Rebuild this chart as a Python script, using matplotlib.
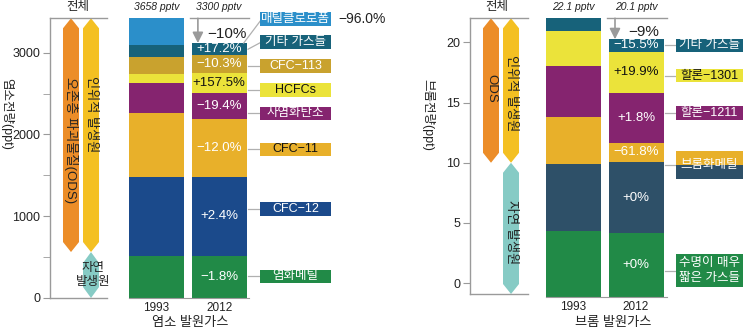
import matplotlib
matplotlib.use("Agg")
import matplotlib.pyplot as plt
from matplotlib import font_manager
from matplotlib.patches import Polygon, Rectangle
import numpy as np

# ---- data (ppt) ----
years = ['1993', '2012']

cl_names = ['염화메틸', 'CFC−12', 'CFC−11', '사염화탄소', 'HCFCs', 'CFC−113', '기타 가스들', '매틸클로로폼']
cl_1993 = [513, 970, 775, 367, 113, 212, 143, 326]
cl_2012 = [513, 970, 702, 317, 248, 217, 150, 0]
cl_change = ['−1.8%', '+2.4%', '−12.0%', '−19.4%', '+157.5%', '−10.3%', '+17.2%', '−96.0%']
cl_totals = ['3658 pptv', '3300 pptv']
cl_total_change = '−10%'
cl_natural = 562      # 자연 발생원 upper end
cl_ymax = 3420

br_names = ['수명이 매우\n짧은 가스들', '브롬화메틸', '할론−1211', '할론−1301', '기타 가스들']
br_segs = [[0], [1, 2], [3], [4], [5]]   # which bar segments each label box covers
br_1993 = [5.50, 5.56, 3.93, 4.21, 2.92, 1.03]
br_2012 = [5.31, 5.89, 1.63, 4.10, 3.45, 1.03]
br_change = ['+0%', '+0%', '−61.8%', '+1.8%', '+19.9%', '−15.5%']
br_totals = ['22.1 pptv', '20.1 pptv']
br_total_change = '−9%'
br_natural = 10.0
br_ymin, br_ymax = -0.9, 22.0
br_barmax = 23.15

# ---- colours ----
cl_colors = ['#218a47', '#1b4a8b', '#e8b02a', '#85246f', '#ebe33a', '#c9a22e', '#17627a', '#2b8fca']
cl_txt = ['white', 'white', 'white', 'white', '#111', 'white', 'white', 'white']
cl_boxtxt = ['white', 'white', '#111', 'white', '#111', 'white', 'white', 'white']
br_colors = ['#218a47', '#2e5068', '#e8b02a', '#85246f', '#ebe33a', '#17627a']
br_txt = ['white', 'white', 'white', 'white', '#111', 'white']
ODS_C = '#ec8d28'
ANTH_C = '#f4c022'
NAT_C = '#86cbc5'
GREY = '#9a9a9a'
DARK = '#222222'

names = {f.name for f in font_manager.fontManager.ttflist}
narrow = 'Liberation Sans Narrow' if 'Liberation Sans Narrow' in names else 'Liberation Sans'
plt.rcParams['font.family'] = [narrow, 'Noto Sans CJK KR', 'DejaVu Sans']

W, H = 745, 333
fig = plt.figure(figsize=(W / 100, H / 100), dpi=100)


def px_rect(x0, y0, x1, y1):
    return [x0 / W, 1 - y1 / H, (x1 - x0) / W, (y1 - y0) / H]


def px_text(x, y, s, **kw):
    fig.text(x / W, 1 - y / H, s, ha='center', va='center', color=DARK, **kw)


def hex_arrow(ax, x0, x1, y0, y1, tip, color):
    xm = (x0 + x1) / 2
    pts = [(x0, y0 + tip), (xm, y0), (x1, y0 + tip), (x1, y1 - tip), (xm, y1), (x0, y1 - tip)]
    ax.add_patch(Polygon(pts, closed=True, fc=color, ec='none', clip_on=False))


def total_axes(rect, ylim):
    ax = fig.add_axes(rect)
    ax.set_xlim(0, 1)
    ax.set_ylim(*ylim)
    ax.set_xticks([])
    ax.spines['right'].set_visible(False)
    for s in ['left', 'top', 'bottom']:
        ax.spines[s].set_color(GREY)
        ax.spines[s].set_linewidth(1)
    ax.tick_params(axis='y', which='both', length=5, color=GREY, labelsize=9,
                   pad=2, labelcolor=DARK)
    ax.patch.set_alpha(0)
    return ax


def bar_axes(rect, xlim, ylim, v93, v12, colors, txtc, changes, totals, tot_change, arrow_x):
    ax = fig.add_axes(rect)
    ax.set_xlim(*xlim)
    ax.set_ylim(*ylim)
    for s in ['left', 'right', 'top']:
        ax.spines[s].set_visible(False)
    ax.spines['bottom'].set_color(GREY)
    ax.set_yticks([])
    ax.set_xticks([0, 1], years)
    ax.tick_params(axis='x', length=0, pad=3, labelsize=8.5, labelcolor=DARK)
    ax.patch.set_alpha(0)
    w = 0.88
    b93 = np.concatenate([[0], np.cumsum(v93)[:-1]])
    b12 = np.concatenate([[0], np.cumsum(v12)[:-1]])
    ax.bar(0, v93, bottom=b93, width=w, color=colors)
    ax.bar(1, v12, bottom=b12, width=w, color=colors)
    for i, v in enumerate(v12):
        if v > 0:
            ax.text(1, b12[i] + v / 2, changes[i], ha='center', va='center',
                    color=txtc[i], fontsize=9.5)
    for x, t in zip([0, 1], totals):
        ax.text(x, 1.04, t, transform=ax.get_xaxis_transform(), ha='center',
                va='center', fontsize=7.5, style='italic', color=DARK,
                family=['Liberation Sans', 'DejaVu Sans'])
    ytop = ylim[1]
    top12 = sum(v12)
    ax.plot([1 - w / 2 - 0.02, xlim[1]], [ytop, ytop], color=GREY, lw=1, clip_on=False)
    ax.annotate('', xy=(arrow_x, top12), xytext=(arrow_x, ytop),
                arrowprops=dict(arrowstyle='-|>', color=GREY, lw=1.2, mutation_scale=16,
                                shrinkA=0, shrinkB=0), annotation_clip=False)
    ax.text(1.13, (ytop + top12) / 2 - (ytop - top12) * 0.15, tot_change, ha='center',
            va='center', fontsize=11, color=DARK)
    return ax, b12


def label_box(ax, x0, x1, y, h, text, fc, tc, line_x, seg_lo, seg_hi, line_from=None):
    if line_from is not None:
        sx, sy = line_from
    else:
        sx = line_x
        sy = y if seg_lo <= y <= seg_hi else (seg_lo + seg_hi) / 2
    ax.plot([sx, x0 + 0.03], [sy, y], color='#b0b0b0', lw=0.9, clip_on=False, zorder=1)
    ax.add_patch(Rectangle((x0, y - h / 2), x1 - x0, h, fc=fc, ec='none',
                           clip_on=False, zorder=2))
    ax.text((x0 + x1) / 2, y, text, ha='center', va='center', color=tc,
            fontsize=9, zorder=3, linespacing=1.35)


# ================= 염소 (chlorine) =================
ax1 = total_axes(px_rect(50, 18.3, 107, 298), (0, cl_ymax))
ax1.set_yticks([0, 1000, 2000, 3000])
ax1.set_yticks([500, 1500, 2500], minor=True)
tip1 = 10 / (279.7 / cl_ymax)
hex_arrow(ax1, 0.228, 0.509, cl_natural, cl_ymax, tip1, ODS_C)
hex_arrow(ax1, 0.579, 0.86, cl_natural, cl_ymax, tip1, ANTH_C)
hex_arrow(ax1, 0.579, 0.86, 0, cl_natural, tip1 * 1.1, NAT_C)
ax1.text(0.368, 1931, '오존층 파괴물질(ODS)', rotation=270, ha='center', va='center',
         fontsize=9.5, color=DARK)
ax1.text(0.72, 2249, '인위적 발생원', rotation=270, ha='center', va='center',
         fontsize=9.5, color=DARK)
ax1.text(0.75, 281, '자연\n발생원', ha='center', va='center', fontsize=9,
         color=DARK, linespacing=1.3)
px_text(78, 7, '전체', fontsize=9)
px_text(7, 114, '염소전량(ppt)', rotation=270, fontsize=9)

ax3, b12 = bar_axes(px_rect(129, 18.3, 249, 298), (-0.4386, 1.475), (0, cl_ymax),
                    cl_1993, cl_2012, cl_colors, cl_txt, cl_change, cl_totals,
                    cl_total_change, 0.66)
cl_label_y = [265, 1090, 1818, 2258, 2543, 2836, 3133, 3414]
h1 = 13.5 / (279.7 / cl_ymax)
for i, name in enumerate(cl_names):
    lf = None
    if cl_2012[i] == 0:
        lf = (1.39, sum(cl_2012))
    label_box(ax3, 1.651, 2.783, cl_label_y[i], h1, name, cl_colors[i], cl_boxtxt[i],
              1.46, b12[i], b12[i] + cl_2012[i], line_from=lf)
ax3.text(2.9, cl_label_y[-1], cl_change[-1], ha='left', va='center', fontsize=10, color=DARK)
px_text(190, 323, '염소 발원가스', fontsize=9.5)

# ================= 브롬 (bromine) =================
ax2 = total_axes(px_rect(470, 18.3, 528, 294), (br_ymin, br_ymax))
ax2.set_yticks([0, 5, 10, 15, 20])
tip2 = 10 / (275.7 / (br_ymax - br_ymin))
hex_arrow(ax2, 0.224, 0.5, br_natural, br_ymax, tip2, ODS_C)
hex_arrow(ax2, 0.569, 0.845, br_natural, br_ymax, tip2, ANTH_C)
hex_arrow(ax2, 0.569, 0.845, br_ymin, br_natural, tip2, NAT_C)
ax2.text(0.362, 16.2, 'ODS', rotation=270, ha='center', va='center', fontsize=9.5, color=DARK)
ax2.text(0.707, 15.8, '인위적 발생원', rotation=270, ha='center', va='center',
         fontsize=9.5, color=DARK)
ax2.text(0.707, 4.26, '자연 발생원', rotation=270, ha='center', va='center',
         fontsize=9.5, color=DARK)
px_text(497, 7, '전체', fontsize=9)
px_text(428, 115, '브롬전량(ppt)', rotation=270, fontsize=9)

ax4, b12r = bar_axes(px_rect(546, 18.3, 667, 297.3), (-0.44, 1.496), (0, br_barmax),
                     br_1993, br_2012, br_colors, br_txt, br_change, br_totals,
                     br_total_change, 0.664)
br_label_y = [2.22, 10.98, 15.3, 18.4, 20.9]
ppu = 279 / br_barmax
h2 = 13.5 / ppu
for j, name in enumerate(br_names):
    segs = br_segs[j]
    lo = b12r[segs[0]]
    hi = b12r[segs[-1]] + br_2012[segs[-1]]
    y = br_label_y[j]
    if len(segs) > 1:
        hh = 28 / ppu
        label_box(ax4, 1.64, 2.712, y, hh, '', br_colors[segs[-1]], 'white', 1.464, lo, hi)
        ax4.add_patch(Rectangle((1.64, y - hh / 2), 2.712 - 1.64, hh / 2,
                                fc=br_colors[segs[0]], ec='none', clip_on=False, zorder=2))
        ax4.text((1.64 + 2.712) / 2, y, name, ha='center', va='center', color='white',
                 fontsize=9, zorder=3)
    else:
        hh = 32.4 / ppu if '\n' in name else h2
        label_box(ax4, 1.64, 2.712, y, hh, name, br_colors[segs[0]], br_txt[segs[0]],
                  1.464, lo, hi)
px_text(613, 323, '브롬 발원가스', fontsize=9.5)

fig.savefig('out.png', dpi=100)
